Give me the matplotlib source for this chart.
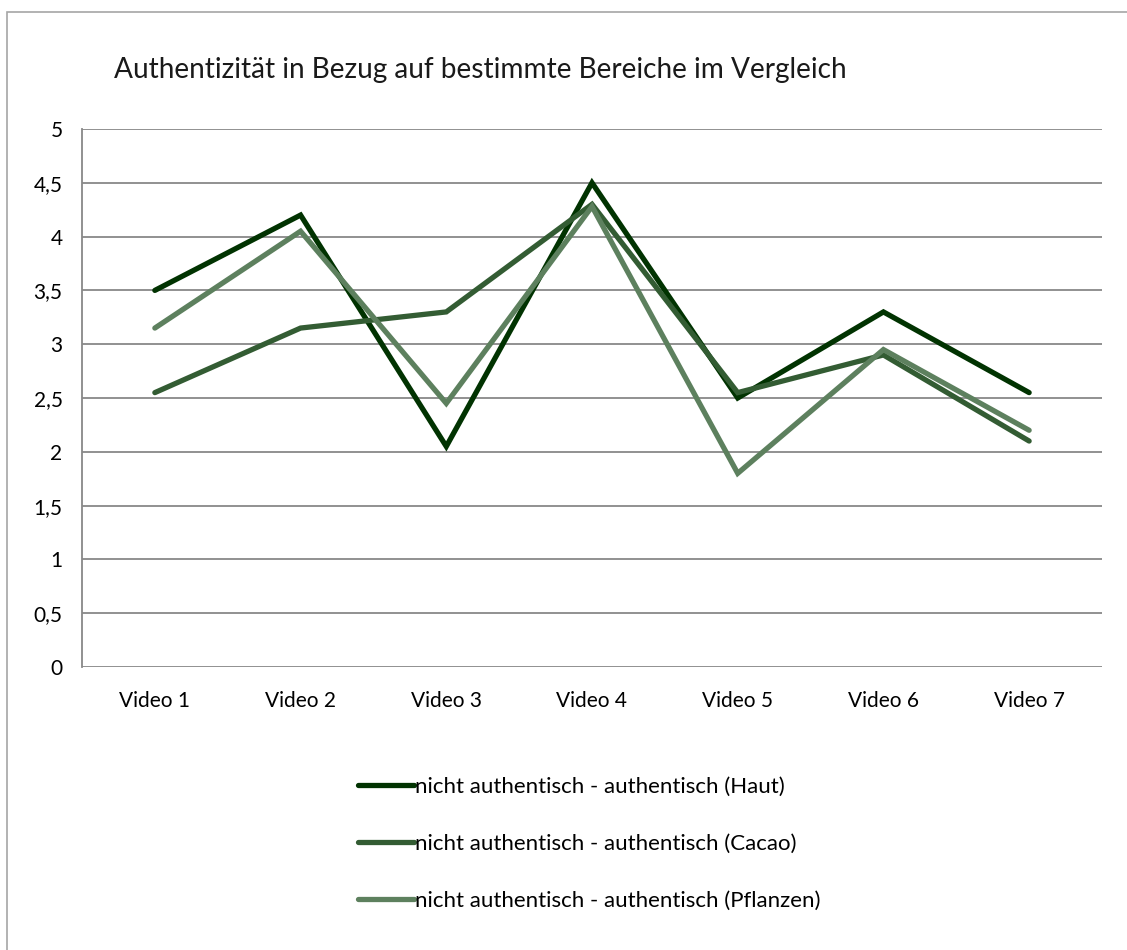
import matplotlib
matplotlib.use("Agg")
import matplotlib.pyplot as plt
from matplotlib.patches import Rectangle
from matplotlib.ticker import FuncFormatter

################################################## Data
videos = ["Video 1", "Video 2", "Video 3", "Video 4", "Video 5", "Video 6", "Video 7"]
haut = [3.5, 4.2, 2.05, 4.5, 2.5, 3.3, 2.55]
cacao = [2.55, 3.15, 3.3, 4.3, 2.55, 2.9, 2.1]
pflanzen = [3.15, 4.05, 2.45, 4.28, 1.8, 2.95, 2.2]

series_labels = [
    "nicht authentisch - authentisch (Haut)",
    "nicht authentisch - authentisch (Cacao)",
    "nicht authentisch - authentisch (Pflanzen)",
]
y_ticks = [0, 0.5, 1, 1.5, 2, 2.5, 3, 3.5, 4, 4.5, 5]

################################################## Plot
plt.rcParams["font.family"] = ["Lato", "DejaVu Sans"]

W, H = 1127, 950
fig = plt.figure(figsize=(W / 100, H / 100), dpi=100)
ax = fig.add_axes([82 / W, 1 - 667 / H, (1102 - 82) / W, (667 - 129) / H])

colors = ["#013301", "#335c33", "#5d805e"]
x = list(range(len(videos)))
for vals, lab, col in zip([haut, cacao, pflanzen], series_labels, colors):
    ax.plot(x, vals, color=col, lw=3.8, label=lab, solid_capstyle="round",
            solid_joinstyle="miter")

ax.set_xlim(-0.5, len(videos) - 0.5)
ax.set_ylim(0, 5)
ax.set_yticks(y_ticks)
ax.yaxis.set_major_formatter(FuncFormatter(lambda v, p: ("%g" % v).replace(".", ",")))
ax.set_xticks(x)
ax.set_xticklabels(videos)
ax.tick_params(axis="both", length=0, labelsize=15, colors="#000000")
ax.tick_params(axis="y", pad=14)
ax.tick_params(axis="x", pad=17)

ax.grid(axis="y", color="#888888", lw=1.3)
ax.set_axisbelow(True)
for s in ["top", "right", "bottom"]:
    ax.spines[s].set_visible(False)
ax.spines["left"].set_color("#888888")
ax.spines["left"].set_linewidth(1.3)

fig.text(114 / W, 1 - 70 / H, "Authentizität in Bezug auf bestimmte Bereiche im Vergleich",
         fontsize=20.2, fontweight="normal", color="#1a1a1a", va="center", ha="left")

handles, labels = ax.get_legend_handles_labels()
fig.legend(handles, labels, loc="upper left", bbox_to_anchor=(338 / W, 1 - 757 / H),
           frameon=False, fontsize=16, handlelength=2.5, handletextpad=0.05,
           labelspacing=1.66)

fig.add_artist(Rectangle((7 / W, -0.1), 1.2, (H - 12) / H + 0.1, transform=fig.transFigure,
                         fill=False, edgecolor="#a6a6a6", lw=1.2))

fig.savefig("out.png", dpi=100)
